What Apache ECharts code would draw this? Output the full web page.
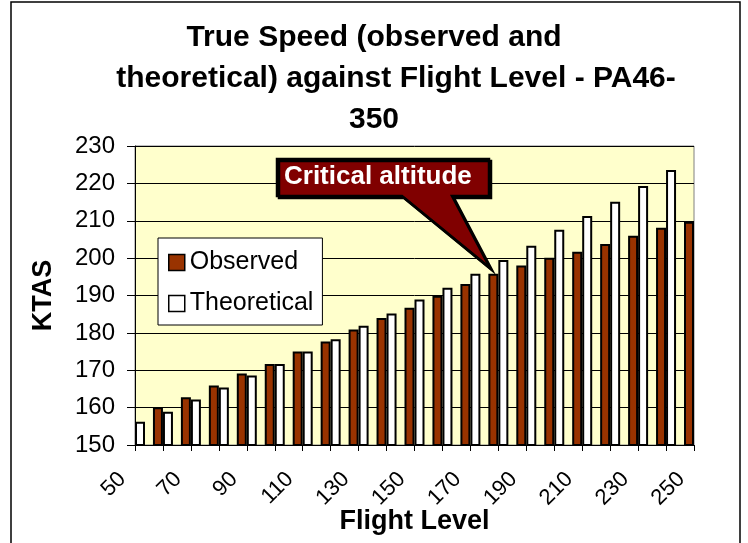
<!DOCTYPE html>
<html>
<head>
<meta charset="utf-8">
<script src="https://cdn.jsdelivr.net/npm/echarts@6/dist/echarts.min.js"></script>
<style>
html,body{margin:0;padding:0;background:#fff;}
#main{width:748px;height:543px;}
</style>
</head>
<body>
<div id="main"></div>
<script>
const flightLevels = ['50','60','70','80','90','100','110','120','130','140','150','160','170','180','190','200','210','220','230','240','250'];
const observed = [null,160.1,162.8,165.9,169.1,171.7,175.0,177.7,180.9,184.0,186.7,189.9,193.1,195.8,198.0,200.1,201.7,203.8,206.0,208.1,209.7];
const theoretical = [156.2,158.9,162.2,165.4,168.6,171.7,175.0,178.3,181.9,185.2,188.9,192.1,195.8,199.5,203.3,207.6,211.3,215.1,219.3,223.6,null];
const yTicks = {min:150, max:230, interval:10};

const FONT = 'Liberation Sans, Arial, sans-serif';
const chart = echarts.init(document.getElementById('main'), null, {renderer:'canvas'});

const option = {
  animation:false,
  backgroundColor:'#ffffff',
  textStyle:{fontFamily:FONT},
  title:{
    text:'{a|True Speed (observed and}\n{b|theoretical) against Flight Level - PA46-}\n{a|350}',
    left:'center', top:12,
    padding:[5,5,5,13],
    textStyle:{fontFamily:FONT, fontSize:30, fontWeight:'bold', color:'#000', lineHeight:41,
      rich:{
        a:{fontFamily:FONT, fontSize:30, fontWeight:'bold', color:'#000', lineHeight:41},
        b:{fontFamily:FONT, fontSize:30, fontWeight:'bold', color:'#000', lineHeight:41, padding:[0,0,0,44]}
      }
    }
  },
  grid:{
    left:135, right:54, top:146, bottom:98,
    outerBoundsMode:'none', containLabel:false,
    show:true, backgroundColor:'#FFFFCC', borderColor:'#808080', borderWidth:1
  },
  legend:{
    orient:'vertical', left:158, top:238,
    padding:[12,9,9,10], itemGap:16, itemWidth:16, itemHeight:16,
    backgroundColor:'#ffffff', borderColor:'#000', borderWidth:1,
    icon:'rect',
    textStyle:{fontFamily:FONT, fontSize:25, color:'#000'},
    data:[
      {name:'Observed', itemStyle:{color:'#993300', borderColor:'#000', borderWidth:1.5}},
      {name:'Theoretical', itemStyle:{color:'#ffffff', borderColor:'#000', borderWidth:1.5}}
    ]
  },
  xAxis:{
    type:'category', data:flightLevels, boundaryGap:false,
    name:'Flight Level', nameLocation:'middle', nameGap:63, nameMoveOverlap:false,
    nameTextStyle:{fontFamily:FONT, fontSize:27, fontWeight:'bold', color:'#000'},
    axisLine:{show:true, lineStyle:{color:'#000', width:1}},
    axisTick:{show:true, interval:0, length:6, lineStyle:{color:'#000'}},
    axisLabel:{interval:1, rotate:45, margin:18, padding:[0,18,0,0], fontFamily:FONT, fontSize:22, color:'#000'},
    splitLine:{show:false}
  },
  yAxis:{
    type:'value', min:yTicks.min, max:yTicks.max, interval:yTicks.interval,
    name:'KTAS', nameLocation:'middle', nameGap:78, nameRotate:90, nameMoveOverlap:false,
    nameTextStyle:{fontFamily:FONT, fontSize:27, fontWeight:'bold', color:'#000'},
    axisLine:{show:true, lineStyle:{color:'#000', width:1}},
    axisTick:{show:true, length:8, lineStyle:{color:'#000'}},
    axisLabel:{margin:20, fontFamily:FONT, fontSize:24, color:'#000'},
    splitLine:{show:true, lineStyle:{color:'#000', width:1}}
  },
  series:[
    {name:'Observed', type:'bar', data:observed, barWidth:10, barGap:'0%', clip:true,
     itemStyle:{color:'#993300', borderColor:'#000', borderWidth:2}},
    {name:'Theoretical', type:'bar', data:theoretical, barWidth:10, barGap:'0%', clip:true,
     itemStyle:{color:'#ffffff', borderColor:'#000', borderWidth:2}}
  ],
  graphic:[
    {type:'rect', shape:{x:11, y:2, width:729, height:560}, style:{fill:null, stroke:'#000', lineWidth:1.5}, silent:true, z:100},
    {type:'polygon', z:200,
     shape:{points:[[277,159],[489,159],[489,196],[452,196],[490,268],[402,196],[277,196]]},
     style:{fill:'#800000', stroke:'#000', lineWidth:2.5, shadowColor:'#000', shadowOffsetX:2, shadowOffsetY:2, shadowBlur:0}},
    {type:'text', z:201, left:284, top:164,
     style:{text:'Critical altitude', fill:'#ffffff', font:'bold 26px ' + FONT}}
  ]
};
chart.setOption(option);
</script>
</body>
</html>
